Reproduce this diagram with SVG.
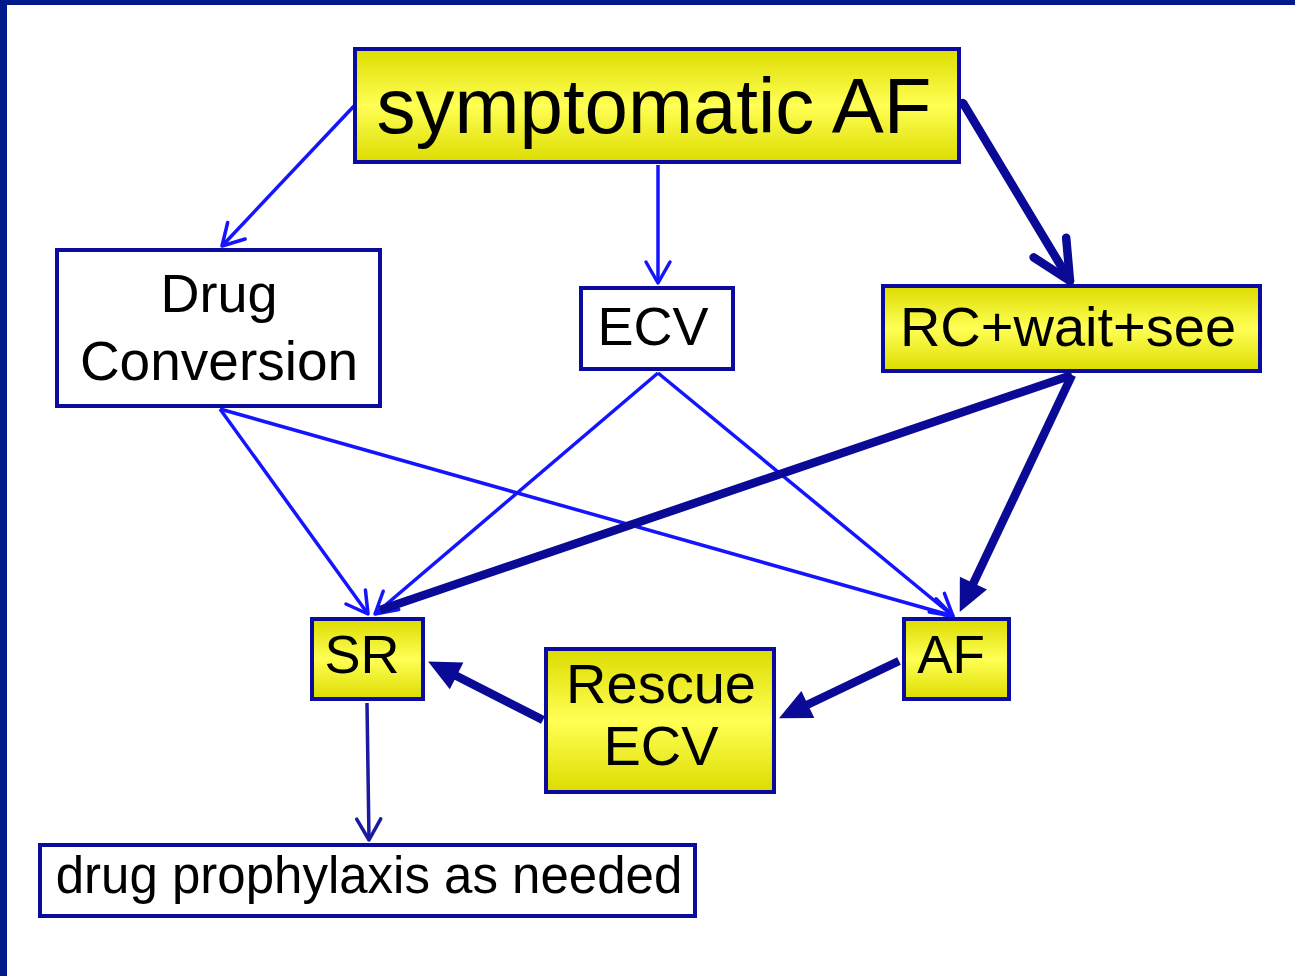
<svg xmlns="http://www.w3.org/2000/svg" width="1295" height="976" viewBox="0 0 1295 976">
<style>
.node rect{stroke:#0b0b9e;stroke-width:4}
.yel{fill:url(#yg)}
.wht{fill:#ffffff}
text{font-family:"Liberation Sans",Arial,sans-serif;fill:#000;text-anchor:middle}
.thin{stroke:#1414ff;stroke-width:3.5;fill:none}
.thick{stroke:#0a0a96;stroke-width:8.5;fill:none}
.dk{stroke:#1a1aa0;stroke-width:3.5;fill:none}
</style>
<defs>
<linearGradient id="yg" x1="0" y1="0" x2="0" y2="1">
<stop offset="0" stop-color="#dcdc00"/>
<stop offset="0.5" stop-color="#ffff55"/>
<stop offset="1" stop-color="#dcdc00"/>
</linearGradient>
<marker id="openThin" markerUnits="userSpaceOnUse" markerWidth="50" markerHeight="50" viewBox="-25 -25 50 50" refX="0" refY="0" orient="auto" overflow="visible">
<path d="M-21,-12 L0,0 L-21,12" fill="none" stroke="#1414ff" stroke-width="3.5" stroke-linecap="round" stroke-linejoin="round"/>
</marker>
<marker id="openDk" markerUnits="userSpaceOnUse" markerWidth="50" markerHeight="50" viewBox="-25 -25 50 50" refX="0" refY="0" orient="auto" overflow="visible">
<path d="M-21,-12 L0,0 L-21,12" fill="none" stroke="#1a1aa0" stroke-width="3.5" stroke-linecap="round" stroke-linejoin="round"/>
</marker>
<marker id="openThick" markerUnits="userSpaceOnUse" markerWidth="100" markerHeight="100" viewBox="-50 -50 100 100" refX="0" refY="0" orient="auto" overflow="visible">
<path d="M-39,-19 L0,0 L-39,19" fill="none" stroke="#0a0a96" stroke-width="8.5" stroke-linecap="round" stroke-linejoin="round"/>
</marker>
<marker id="fillThick" markerUnits="userSpaceOnUse" markerWidth="100" markerHeight="100" viewBox="-50 -50 100 100" refX="0" refY="0" orient="auto" overflow="visible">
<path d="M-22,-15 L10,0 L-22,15 Z" fill="#0a0a96"/>
</marker>
</defs>
<rect x="0" y="0" width="1295" height="976" fill="#ffffff"/>
<rect x="0" y="0" width="1295" height="5" fill="#001a8c"/>
<rect x="0" y="0" width="7" height="976" fill="#001a8c"/>

<g id="connectors">
<line class="thin" x1="354" y1="106" x2="222" y2="246" marker-end="url(#openThin)"/>
<line class="thin" x1="658" y1="165" x2="658" y2="283" marker-end="url(#openThin)"/>
<line class="thick" x1="963" y1="103" x2="1070" y2="281" stroke-linecap="round" marker-end="url(#openThick)"/>
<line class="thin" x1="220" y1="409" x2="368" y2="614" marker-end="url(#openThin)"/>
<line class="thin" x1="220" y1="409" x2="953" y2="616" marker-end="url(#openThin)"/>
<line class="thin" x1="658" y1="373" x2="375" y2="614" marker-end="url(#openThin)"/>
<line class="thin" x1="658" y1="373" x2="953" y2="616" marker-end="url(#openThin)"/>
<line class="thick" x1="1072" y1="375" x2="380" y2="610"/>
<line class="thick" x1="1072" y1="375" x2="964" y2="603" marker-end="url(#fillThick)"/>
<line class="thick" x1="543" y1="720" x2="437" y2="666" marker-end="url(#fillThick)"/>
<line class="thick" x1="899" y1="661" x2="788" y2="714" marker-end="url(#fillThick)"/>
<line class="dk" x1="367" y1="703" x2="369" y2="840" marker-end="url(#openDk)"/>
</g>

<g id="node-symptomatic-af" class="node">
<rect class="yel" x="355" y="49" width="604" height="113"/>
<text x="654" y="133" font-size="78">symptomatic AF</text>
</g>
<g id="node-drug-conversion" class="node">
<rect class="wht" x="57" y="250" width="323" height="156"/>
<text x="219" y="312" font-size="54">Drug</text>
<text x="219" y="380" font-size="55">Conversion</text>
</g>
<g id="node-ecv" class="node">
<rect class="wht" x="581" y="288" width="152" height="81"/>
<text x="653" y="345" font-size="54">ECV</text>
</g>
<g id="node-rc-wait-see" class="node">
<rect class="yel" x="883" y="286" width="377" height="85"/>
<text x="1068" y="346" font-size="56">RC+wait+see</text>
</g>
<g id="node-sr" class="node">
<rect class="yel" x="312" y="619" width="111" height="80"/>
<text x="362" y="673" font-size="54">SR</text>
</g>
<g id="node-af" class="node">
<rect class="yel" x="904" y="619" width="105" height="80"/>
<text x="951" y="673" font-size="53">AF</text>
</g>
<g id="node-rescue-ecv" class="node">
<rect class="yel" x="546" y="649" width="228" height="143"/>
<text x="661" y="703" font-size="56">Rescue</text>
<text x="661" y="765" font-size="56">ECV</text>
</g>
<g id="node-drug-prophylaxis" class="node">
<rect class="wht" x="40" y="845" width="655" height="71"/>
<text x="369" y="893" font-size="51">drug prophylaxis as needed</text>
</g>
</svg>
